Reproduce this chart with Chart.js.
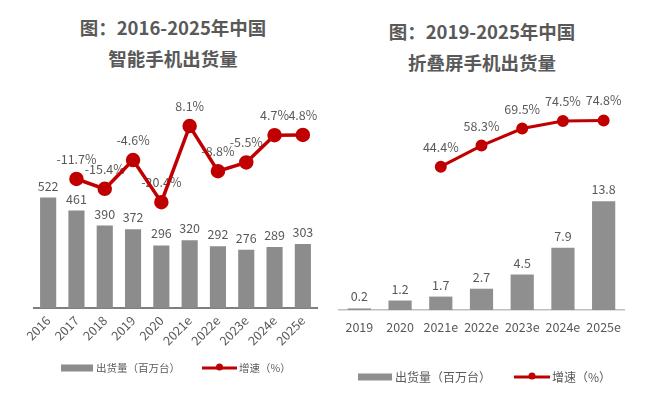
<!DOCTYPE html>
<html>
<head>
<meta charset="utf-8">
<script src="https://cdn.jsdelivr.net/npm/chart.js@4"></script>
<style>
  body { margin: 0; background: #fff; }
  #wrap { position: relative; width: 648px; height: 397px; overflow: hidden; }
  .title {
    position: absolute; text-align: center; color: #595959;
    font-family: "Noto Sans CJK SC", sans-serif; font-weight: bold; font-size: 18.5px;
    line-height: 31px; white-space: nowrap;
  }
  canvas { position: absolute; top: 0; }
</style>
</head>
<body>
<div id="wrap">
  <div class="title" style="left:73px; top:12px; width:200px;">图：2016-2025年中国<br>智能手机出货量</div>
  <div class="title" style="left:382px; top:16px; width:200px;">图：2019-2025年中国<br>折叠屏手机出货量</div>
  <div style="position:absolute; left:0; top:0; width:330px; height:397px;"><canvas id="smart"></canvas></div>
  <div style="position:absolute; left:330px; top:0; width:318px; height:397px;"><canvas id="fold"></canvas></div>
</div>
<script>
// smartphone shipments
const smartYears = ["2016", "2017", "2018", "2019", "2020", "2021e", "2022e", "2023e", "2024e", "2025e"];
const smartShip = [522, 461, 390, 372, 296, 320, 292, 276, 289, 303];
const smartGrowth = [null, -11.7, -15.4, -4.6, -20.4, 8.1, -8.8, -5.5, 4.7, 4.8];

// foldable shipments
const foldYears = ["2019", "2020", "2021e", "2022e", "2023e", "2024e", "2025e"];
const foldShip = [0.2, 1.2, 1.7, 2.7, 4.5, 7.9, 13.8];
const foldGrowth = [null, null, 44.4, 58.3, 69.5, 74.5, 74.8];

const barName = "出货量（百万台）";
const lineName = "增速（%）";
const FONT = '"Noto Sans CJK SC", "Noto Sans", sans-serif';
const GREY_TXT = "#595959";
const RED = "#c00000";

// value labels, drawn under the line like the original
const valueLabels = {
  id: "valueLabels",
  beforeDatasetsDraw(chart, args, opts) {
    const ctx = chart.ctx;
    ctx.save();
    ctx.fillStyle = GREY_TXT;
    ctx.textAlign = "center";
    ctx.textBaseline = "alphabetic";
    ctx.font = opts.size + "px " + FONT;
    chart.data.datasets.forEach((ds, i) => {
      let meta = chart.getDatasetMeta(i);
      meta.data.forEach((el, j) => {
        let v = ds.data[j];
        if (v === null || v === undefined) return;
        if (ds.type === "line") {
          ctx.fillText(v.toFixed(1) + "%", el.x, el.y - 15);
        } else {
          ctx.fillText(String(v), el.x, el.y - 7);
        }
      });
    });
    ctx.restore();
  },
};

// legend drawn by hand so the swatches look like the source
const handLegend = {
  id: "handLegend",
  afterDraw(chart, args, opts) {
    const ctx = chart.ctx;
    ctx.save();
    ctx.font = opts.size + "px " + FONT;
    ctx.textBaseline = "middle";
    let x = opts.x;
    let y = opts.y;
    ctx.fillStyle = opts.barColor;
    ctx.fillRect(x, y - 3.5, opts.sw, 7);
    x += opts.sw + 3;
    ctx.fillStyle = GREY_TXT;
    ctx.fillText(barName, x, y);
    x += ctx.measureText(barName).width + opts.gap;
    ctx.strokeStyle = RED;
    ctx.lineWidth = 3;
    ctx.beginPath();
    ctx.moveTo(x, y);
    ctx.lineTo(x + opts.lw, y);
    ctx.stroke();
    ctx.fillStyle = RED;
    ctx.beginPath();
    ctx.arc(x + opts.lw / 2, y - 1, 3.5, 0, Math.PI * 2);
    ctx.fill();
    x += opts.lw + 2;
    ctx.fillStyle = GREY_TXT;
    ctx.fillText(lineName, x, y);
    ctx.restore();
  },
};

function makeChart(id, cfg) {
  let data = {
    labels: cfg.labels,
    datasets: [
      {
        type: "line",
        label: lineName,
        data: cfg.growth,
        yAxisID: "y2",
        borderColor: RED,
        backgroundColor: RED,
        borderWidth: cfg.lineWidth,
        pointRadius: cfg.pointRadius,
        pointHoverRadius: cfg.pointRadius,
        tension: 0,
        spanGaps: false,
        order: 0,
      },
      {
        type: "bar",
        label: barName,
        data: cfg.ship,
        yAxisID: "y",
        backgroundColor: cfg.barColor,
        categoryPercentage: 1,
        barPercentage: 0.57,
        order: 1,
      },
    ],
  };

  let options = {
    responsive: false,
    animation: false,
    layout: { padding: cfg.padding },
    plugins: {
      legend: { display: false },
      tooltip: { enabled: false },
      valueLabels: { size: cfg.valueSize },
      handLegend: cfg.legend,
    },
    scales: {
      x: {
        grid: { display: false, drawTicks: false },
        border: { display: true, color: cfg.axisColor, width: cfg.axisWidth },
        ticks: {
          color: GREY_TXT,
          font: { family: FONT, size: cfg.tickSize },
          minRotation: cfg.rotation,
          maxRotation: cfg.rotation,
          padding: cfg.tickPad,
        },
        afterFit: (s) => { s.height = cfg.xHeight; },
      },
      y: { display: false, min: 0, max: cfg.barMax },
      y2: { display: false, min: cfg.lineMin, max: cfg.lineMax },
    },
  };

  let canvas = document.getElementById(id);
  canvas.width = cfg.w;
  canvas.height = 397;
  return new Chart(canvas.getContext("2d"), {
    data,
    options,
    plugins: [valueLabels, handLegend],
  });
}

makeChart("smart", {
  w: 330,
  labels: smartYears,
  ship: smartShip,
  growth: smartGrowth,
  barColor: "#8c8c8c",
  lineWidth: 3.5,
  pointRadius: 5.5,
  padding: { left: 34, right: 13, top: 105, bottom: 49 },
  xHeight: 40,
  tickSize: 12.5,
  tickPad: 5,
  rotation: 45,
  valueSize: 12.5,
  axisColor: "#7f7f7f",
  axisWidth: 2,
  barMax: 960,
  lineMin: -60,
  lineMax: 16,
  legend: { x: 61, y: 368, size: 10.5, sw: 32, lw: 35, gap: 22, barColor: "#8c8c8c" },
});

makeChart("fold", {
  w: 318,
  labels: foldYears,
  ship: foldShip,
  growth: foldGrowth,
  barColor: "#8f8f8f",
  lineWidth: 3,
  pointRadius: 4.5,
  padding: { left: 9, right: 24, top: 105, bottom: 57 },
  xHeight: 30,
  tickSize: 12.5,
  tickPad: 10,
  rotation: 0,
  valueSize: 12.5,
  axisColor: "#bfbfbf",
  axisWidth: 1.5,
  barMax: 26,
  lineMin: -50,
  lineMax: 85,
  legend: { x: 28, y: 377, size: 12, sw: 34, lw: 36, gap: 23, barColor: "#8f8f8f" },
});
</script>
</body>
</html>
